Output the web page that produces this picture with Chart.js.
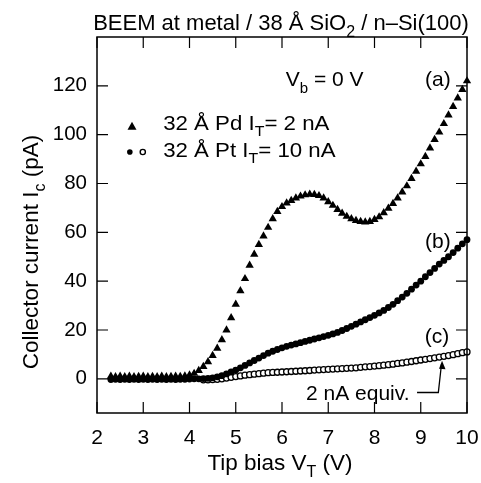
<!DOCTYPE html>
<html>
<head>
<meta charset="utf-8">
<script src="https://cdn.jsdelivr.net/npm/chart.js@4.4.0/dist/chart.umd.min.js"></script>
<style>
  html, body { margin: 0; padding: 0; background: #fff; }
  #wrap { width: 481px; height: 483px; }
</style>
</head>
<body>
<div id="wrap"><canvas id="beem-chart" width="481" height="483"></canvas></div>
<script>
// tip bias (V)
const volts = [
  2.3, 2.4, 2.5, 2.6, 2.7, 2.8, 2.9, 3.0, 3.1, 3.2, 3.3, 3.4, 3.5, 3.6, 3.7, 3.8, 3.9, 4.0,
  4.1, 4.2, 4.3, 4.4, 4.5, 4.6, 4.7, 4.8, 4.9, 5.0,
  5.1, 5.2, 5.3, 5.4, 5.5, 5.6, 5.7, 5.8, 5.9, 6.0,
  6.1, 6.2, 6.3, 6.4, 6.5, 6.6, 6.7, 6.8, 6.9, 7.0,
  7.1, 7.2, 7.3, 7.4, 7.5, 7.6, 7.7, 7.8, 7.9, 8.0,
  8.1, 8.2, 8.3, 8.4, 8.5, 8.6, 8.7, 8.8, 8.9, 9.0,
  9.1, 9.2, 9.3, 9.4, 9.5, 9.6, 9.7, 9.8, 9.9, 10.0
];
// (a) 32 A Pd, IT = 2 nA
const pdCurrent = [
  1.0, 0.8, 1.0, 0.8, 1.0, 0.8, 0.9, 1.0, 0.8, 0.9, 0.8, 1.0, 0.8, 0.9, 1.0, 0.9, 1.1, 1.5,
  2.2, 3.4, 5.0, 7.0, 9.5, 12.5, 16, 20, 25, 30.5,
  36, 41, 46.5, 51, 55, 58.5, 62, 65.5, 68.5, 70.5,
  72, 73, 74, 74.8, 75.3, 75.6, 75.5, 75, 74, 72.5,
  71, 69.3, 67.8, 66.5, 65.5, 64.8, 64.4, 64.2, 64.4, 65.2,
  66.3, 68, 69.8, 71.8, 74, 76.5, 79, 82, 85, 88,
  91, 94.5, 98, 101, 104.5, 108, 111.5, 115, 118.5, 122
];
// (b) 32 A Pt, IT = 10 nA
const ptCurrent = [
  -0.3, -0.2, -0.3, -0.2, -0.3, -0.2, -0.3, -0.2, -0.3, -0.2, -0.3, -0.2, -0.3, -0.2, -0.3, -0.2, -0.2, -0.1,
  0, 0, 0.1, 0.2, 0.4, 0.8, 1.3, 2.0, 2.8, 3.6,
  4.5, 5.5, 6.5, 7.5, 8.5, 9.5, 10.5, 11.3, 12.0, 12.7,
  13.3, 13.8, 14.3, 14.8, 15.3, 15.8, 16.3, 16.8, 17.3, 17.8,
  18.4, 19.0, 19.8, 20.6, 21.5, 22.4, 23.3, 24.2, 25.1, 26.0,
  27, 28, 29.2, 30.5, 32, 33.5, 35, 36.7, 38.4, 40,
  41.8, 43.5, 45.2, 47, 48.5, 50, 51.7, 53.5, 55.3, 57
];
// (c) Pt scaled to 2 nA equivalent, from 4.3 V
const equivVolts = volts.slice(20);
const equivCurrent = [
  -0.4, -0.4, -0.3, -0.2, 0, 0.3, 0.6, 0.9,
  1.2, 1.5, 1.7, 1.9, 2.1, 2.3, 2.5, 2.6, 2.7, 2.8,
  2.9, 3.0, 3.1, 3.2, 3.3, 3.4, 3.6, 3.7, 3.8, 3.9,
  4.0, 4.1, 4.2, 4.3, 4.4, 4.5, 4.7, 4.9, 5.0, 5.2,
  5.4, 5.6, 5.8, 6.0, 6.3, 6.5, 6.8, 7.1, 7.4, 7.7,
  8.0, 8.3, 8.6, 8.9, 9.2, 9.5, 9.9, 10.3, 10.7, 11.0
];
const xTicks = [2, 3, 4, 5, 6, 7, 8, 9, 10];
const yTicks = [0, 20, 40, 60, 80, 100, 120];

const FONT = '"Liberation Sans", Arial, Helvetica, sans-serif';

function toPoints(xs, ys) {
  return ys.map((y, i) => ({x: xs[i], y: y}));
}

// text with subscripts: parts = [[text, isSub], ...], sx = horizontal stretch
function drawRich(ctx, parts, x, y, size, align, sx) {
  sx = sx || 1;
  const sub = Math.round(size * 0.72);
  let w = 0;
  parts.forEach(p => {
    ctx.font = (p[1] ? sub : size) + 'px ' + FONT;
    w += ctx.measureText(p[0]).width;
  });
  w *= sx;
  let cx = align === 'center' ? x - w / 2 : (align === 'right' ? x - w : x);
  ctx.save();
  ctx.translate(cx, y);
  ctx.scale(sx, 1);
  ctx.textAlign = 'left';
  ctx.textBaseline = 'alphabetic';
  let ox = 0;
  parts.forEach(p => {
    ctx.font = (p[1] ? sub : size) + 'px ' + FONT;
    ctx.fillText(p[0], ox, p[1] ? size * 0.3 : 0);
    ox += ctx.measureText(p[0]).width;
  });
  ctx.restore();
}

const decorations = {
  id: 'decorations',
  afterDraw(chart) {
    const ctx = chart.ctx;
    const a = chart.chartArea;
    const xs = chart.scales.x, ys = chart.scales.y;
    const px = v => xs.getPixelForValue(v);
    const py = v => ys.getPixelForValue(v);
    ctx.save();
    ctx.strokeStyle = '#000';
    ctx.fillStyle = '#000';

    // frame
    ctx.lineWidth = 1.5;
    ctx.strokeRect(a.left, a.top, a.right - a.left, a.bottom - a.top);

    // inward ticks on all four sides
    const tl = 11;
    ctx.lineWidth = 1.2;
    ctx.beginPath();
    xTicks.forEach(v => {
      const x = px(v);
      ctx.moveTo(x, a.bottom); ctx.lineTo(x, a.bottom - tl);
      ctx.moveTo(x, a.top); ctx.lineTo(x, a.top + tl);
    });
    yTicks.forEach(v => {
      const y = py(v);
      ctx.moveTo(a.left, y); ctx.lineTo(a.left + tl, y);
      ctx.moveTo(a.right, y); ctx.lineTo(a.right - tl, y);
    });
    ctx.stroke();

    // title
    drawRich(ctx, [['BEEM at metal / 38 Å SiO', false], ['2', true], [' / n–Si(100)', false]],
      281, 30, 22, 'center');

    // axis titles
    drawRich(ctx, [['Tip bias V', false], ['T', true], [' (V)', false]], 280, 470, 22.5, 'center');
    ctx.save();
    ctx.translate(38, 252);
    ctx.rotate(-Math.PI / 2);
    drawRich(ctx, [['Collector current I', false], ['c', true], [' (pA)', false]], 0, 0, 22.5, 'center');
    ctx.restore();

    // annotations
    drawRich(ctx, [['V', false], ['b', true], [' = 0 V', false]], px(6.08), py(119.8), 21, 'left');
    drawRich(ctx, [['(a)', false]], px(9.37), py(119.8), 21, 'center');
    drawRich(ctx, [['(b)', false]], px(9.37), py(53.4), 21, 'center');
    drawRich(ctx, [['(c)', false]], px(9.35), py(14.5), 21, 'center');

    // legend
    ctx.beginPath();
    const lx = px(2.757), ly = py(103.4);
    ctx.moveTo(lx, ly - 4.5); ctx.lineTo(lx + 4.5, ly + 3.5); ctx.lineTo(lx - 4.5, ly + 3.5); ctx.closePath();
    ctx.fill();
    drawRich(ctx, [['32 Å Pd I', false], ['T', true], ['= 2 nA', false]], px(3.43), py(102), 21, 'left', 1.06);
    ctx.beginPath();
    ctx.arc(px(2.71), py(92.9), 2.8, 0, Math.PI * 2);
    ctx.fill();
    ctx.beginPath();
    ctx.lineWidth = 1.4;
    ctx.arc(px(2.99), py(92.9), 2.6, 0, Math.PI * 2);
    ctx.stroke();
    drawRich(ctx, [['32 Å Pt I', false], ['T', true], ['= 10 nA', false]], px(3.43), py(90.9), 21, 'left', 1.06);

    // "2 nA equiv." with arrow to curve (c)
    drawRich(ctx, [['2 nA equiv.', false]], px(6.52), py(-8.8), 21, 'left');
    const tipX = px(9.46), tipY = py(7.4);
    ctx.lineWidth = 1.3;
    ctx.beginPath();
    ctx.moveTo(px(8.92), py(-5.6));
    ctx.lineTo(px(9.38), py(-5.6));
    ctx.lineTo(tipX - 0.5, tipY + 3);
    ctx.stroke();
    ctx.beginPath();
    ctx.moveTo(tipX, tipY);
    ctx.lineTo(tipX + 3.5, tipY + 8.5);
    ctx.lineTo(tipX - 3, tipY + 8);
    ctx.closePath();
    ctx.fill();

    ctx.restore();
  }
};

const config = {
  type: 'scatter',
  data: {
    datasets: [
      {
        label: '32 Å Pd IT= 2 nA',
        data: toPoints(volts, pdCurrent),
        pointStyle: 'triangle',
        pointRadius: 4.8,
        backgroundColor: '#000',
        borderColor: '#000',
        borderWidth: 0,
        clip: false,
      },
      {
        label: '32 Å Pt IT= 10 nA',
        data: toPoints(volts, ptCurrent),
        pointStyle: 'circle',
        pointRadius: 3.4,
        backgroundColor: '#000',
        borderColor: '#000',
        borderWidth: 0,
        clip: false,
      },
      {
        label: '2 nA equiv.',
        data: toPoints(equivVolts, equivCurrent),
        pointStyle: 'circle',
        pointRadius: 3.0,
        backgroundColor: '#fff',
        borderColor: '#000',
        borderWidth: 1.3,
        clip: false,
      },
    ]
  },
  plugins: [decorations],
  options: {
    responsive: false,
    animation: false,
    devicePixelRatio: 1,
    layout: {
      padding: {top: 37, right: 14, left: 0, bottom: 0}
    },
    plugins: {
      legend: {display: false},
      tooltip: {enabled: false},
      title: {display: false},
    },
    scales: {
      x: {
        type: 'linear',
        min: 2,
        max: 10,
        grid: {display: false, drawTicks: false},
        border: {display: false},
        afterBuildTicks: scale => { scale.ticks = xTicks.map(v => ({value: v})); },
        afterFit: scale => {
          scale.height = 70;
          scale.paddingLeft = 0;
          scale.paddingRight = 0;
        },
        ticks: {
          padding: 13,
          color: '#000',
          maxRotation: 0,
          font: {family: FONT, size: 21},
        },
      },
      y: {
        type: 'linear',
        min: -14,
        max: 140,
        grid: {display: false, drawTicks: false},
        border: {display: false},
        afterBuildTicks: scale => { scale.ticks = yTicks.map(v => ({value: v})); },
        afterFit: scale => {
          scale.width = 97;
          scale.paddingTop = 0;
          scale.paddingBottom = 0;
        },
        ticks: {
          padding: 10,
          color: '#000',
          font: {family: FONT, size: 20.5},
        },
      },
    },
  },
};

const ctx = document.getElementById('beem-chart').getContext('2d');
const beemChart = new Chart(ctx, config);
</script>
</body>
</html>
